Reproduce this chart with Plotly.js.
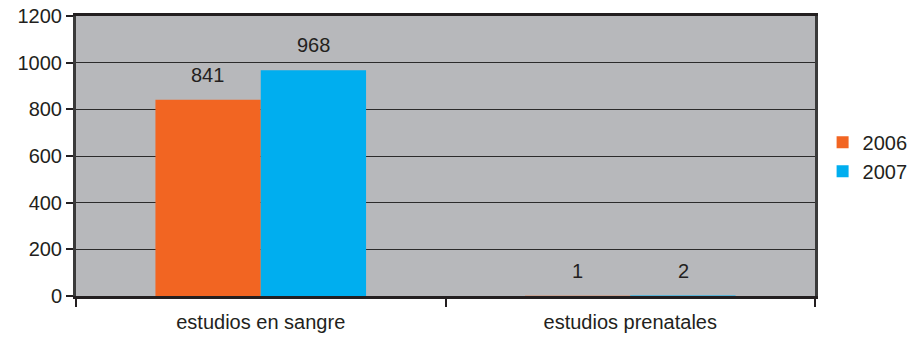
<!DOCTYPE html>
<html>
<head>
<meta charset="utf-8">
<script src="https://cdn.plot.ly/plotly-3.0.1.min.js"></script>
<style>html,body{margin:0;padding:0;background:#fff;}#chart{width:914px;height:337px;}</style>
</head>
<body>
<div id="chart"></div>
<script>
const categories = ["estudios en sangre", "estudios prenatales"];
const seriesNames = ["2006", "2007"];
const values2006 = [841, 1];
const values2007 = [968, 2];
const yTicks = [0, 200, 400, 600, 800, 1000, 1200];

const colors = ["#f26522", "#00aeef"];
const font = "'Liberation Sans', Arial, sans-serif";
const seriesValues = [values2006, values2007];

const traces = seriesValues.map((vals, i) => ({
  type: "bar",
  name: seriesNames[i],
  x: categories,
  y: vals,
  marker: { color: colors[i], line: { width: 0 } },
  hoverinfo: "skip"
}));

const annotations = [];
seriesValues.forEach((vals, i) => {
  vals.forEach((v, j) => {
    annotations.push({
      x: categories[j], y: v, xref: "x", yref: "y",
      text: String(v), showarrow: false,
      xshift: (i === 0 ? -53 : 53), yanchor: "bottom", yshift: 12,
      font: { family: font, size: 20, color: "#231f20" }
    });
  });
});

const layout = {
  width: 914, height: 337,
  margin: { l: 76, r: 99, t: 16, b: 41, autoexpand: false },
  paper_bgcolor: "#ffffff",
  plot_bgcolor: "#b7b8bb",
  barmode: "group",
  bargap: 0.43,
  bargroupgap: 0,
  showlegend: true,
  legend: {
    xref: "container", yref: "container",
    x: 0.9, xanchor: "left", y: 0.535, yanchor: "middle",
    font: { family: font, size: 20, color: "#231f20" },
    itemwidth: 30, tracegroupgap: 4, bgcolor: "rgba(0,0,0,0)"
  },
  xaxis: {
    type: "category",
    tickson: "boundaries",
    ticks: "outside", ticklen: 8, tickwidth: 2, tickcolor: "#231f20",
    showline: true, linecolor: "#231f20", linewidth: 3, mirror: true,
    showgrid: false,
    ticklabelstandoff: 6,
    tickfont: { family: font, size: 20, color: "#231f20" },
    fixedrange: true
  },
  yaxis: {
    range: [0, 1200],
    tickvals: yTicks,
    ticktext: yTicks.map(String),
    ticks: "outside", ticklen: 7, tickwidth: 2, tickcolor: "#231f20",
    showline: true, linecolor: "#3a3a3a", linewidth: 3, mirror: true,
    showgrid: true, gridcolor: "#2b2b2b", gridwidth: 1,
    zeroline: false,
    tickfont: { family: font, size: 20, color: "#231f20" },
    fixedrange: true
  },
  annotations: annotations
};

Plotly.newPlot("chart", traces, layout, { displayModeBar: false, staticPlot: true });
</script>
</body>
</html>
